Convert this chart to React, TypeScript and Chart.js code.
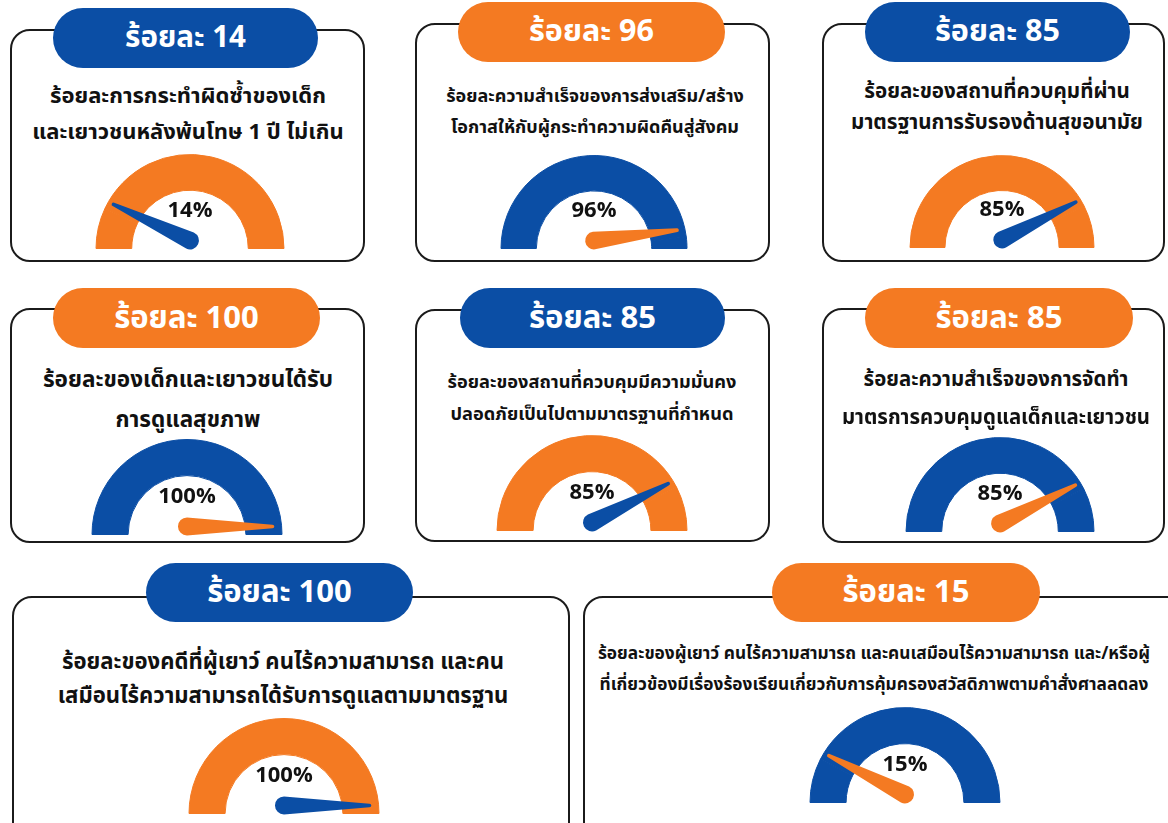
import React, { useEffect, useRef } from 'react';
import { Chart, registerables } from 'chart.js';

Chart.register(...registerables);

const BLUE = '#0b4ea5';
const ORANGE = '#f47a22';

const badgeLabels = ['ร้อยละ 14', 'ร้อยละ 96', 'ร้อยละ 85', 'ร้อยละ 100', 'ร้อยละ 85', 'ร้อยละ 85', 'ร้อยละ 100', 'ร้อยละ 15'];
const gaugeValues = [14, 96, 85, 100, 85, 85, 100, 15];
const gaugeLabels = ['14%', '96%', '85%', '100%', '85%', '85%', '100%', '15%'];
const badgeColors = ['blue', 'orange', 'blue', 'orange', 'blue', 'orange', 'blue', 'orange'];
const descriptions = [
  ['ร้อยละการกระทำผิดซ้ำของเด็ก', 'และเยาวชนหลังพ้นโทษ 1 ปี ไม่เกิน'],
  ['ร้อยละความสำเร็จของการส่งเสริม/สร้าง', 'โอกาสให้กับผู้กระทำความผิดคืนสู่สังคม'],
  ['ร้อยละของสถานที่ควบคุมที่ผ่าน', 'มาตรฐานการรับรองด้านสุขอนามัย'],
  ['ร้อยละของเด็กและเยาวชนได้รับ', 'การดูแลสุขภาพ'],
  ['ร้อยละของสถานที่ควบคุมมีความมั่นคง', 'ปลอดภัยเป็นไปตามมาตรฐานที่กำหนด'],
  ['ร้อยละความสำเร็จของการจัดทำ', 'มาตรการควบคุมดูแลเด็กและเยาวชน'],
  ['ร้อยละของคดีที่ผู้เยาว์ คนไร้ความสามารถ และคน', 'เสมือนไร้ความสามารถได้รับการดูแลตามมาตรฐาน'],
  ['ร้อยละของผู้เยาว์ คนไร้ความสามารถ และคนเสมือนไร้ความสามารถ และ/หรือผู้', 'ที่เกี่ยวข้องมีเรื่องร้องเรียนเกี่ยวกับการคุ้มครองสวัสดิภาพตามคำสั่งศาลลดลง'],
];

// layout only: box [x,y,w,h], pill [x,y,w,h], desc line centre y's, desc centre x, font sizes, gauge [cx,cy,R]
const layouts = [
  { box: [10, 29, 355, 233], pill: [53, 8, 265, 60], lines: [97, 133], lx: 188, fs: 22, ts: 29.5, gauge: [190, 249, 95] },
  { box: [415, 23, 355, 239], pill: [458, 2, 267, 60], lines: [97, 128], lx: 595, fs: 18, ts: 30.5, gauge: [594, 249, 94] },
  { box: [822, 23, 343, 239], pill: [865, 2, 265, 60], lines: [92, 123], lx: 997, fs: 20.6, ts: 30.5, gauge: [1002, 248, 93] },
  { box: [10, 308, 355, 235], pill: [53, 288, 267, 60], lines: [380, 420], lx: 188, fs: 22.5, ts: 31, gauge: [187, 535, 96] },
  { box: [415, 309, 355, 233], pill: [460, 288, 265, 60], lines: [383, 415], lx: 592, fs: 18.2, ts: 31, gauge: [592, 531, 96] },
  { box: [822, 308, 343, 235], pill: [865, 288, 268, 60], lines: [380, 418], lx: 996, fs: 20.4, ts: 31, gauge: [1000, 532, 95] },
  { box: [12, 596, 558, 260], pill: [146, 563, 267, 59], lines: [663, 697], lx: 283, fs: 22.1, ts: 31, gauge: [284, 814, 96] },
  { box: [583, 596, 610, 260], pill: [772, 563, 268, 59], lines: [654, 685], lx: 874, fs: 17.3, ts: 31, gauge: [905, 803, 96] },
];

const FONT = '"Noto Sans Thai", "Noto Sans Thai UI", "Loma", "Garuda", "Tlwg Typo", "Noto Sans", "DejaVu Sans", sans-serif';

const colorOf = (c: string) => (c === 'blue' ? BLUE : ORANGE);

const needlePlugin = {
  id: 'needle',
  afterDatasetsDraw(chart: any, _args: any, opts: any) {
    const arc = chart.getDatasetMeta(0).data[0];
    if (!arc) return;
    const { x, y, endAngle, outerRadius } = arc.getProps(['x', 'y', 'endAngle', 'outerRadius'], true);
    const ctx = chart.ctx;
    const px = x;
    const py = y - outerRadius * 0.085;
    const len = outerRadius * 0.9;
    const a = endAngle;
    const tx = px + Math.cos(a) * len;
    const ty = py + Math.sin(a) * len;
    const baseR = outerRadius * 0.095;
    const tipR = 1.8;
    ctx.save();
    ctx.fillStyle = opts.color;
    ctx.beginPath();
    const p = a + Math.PI / 2;
    ctx.moveTo(tx + Math.cos(p) * tipR, ty + Math.sin(p) * tipR);
    ctx.lineTo(px + Math.cos(p) * baseR, py + Math.sin(p) * baseR);
    ctx.arc(px, py, baseR, a + Math.PI / 2, a + (3 * Math.PI) / 2, false);
    ctx.lineTo(tx + Math.cos(a - Math.PI / 2) * tipR, ty + Math.sin(a - Math.PI / 2) * tipR);
    ctx.arc(tx, ty, tipR, a - Math.PI / 2, a + Math.PI / 2, false);
    ctx.closePath();
    ctx.fill();
    ctx.restore();
  },
};

function Gauge({ value, arcColor, needleColor, R }: { value: number; arcColor: string; needleColor: string; R: number }) {
  const ref = useRef<HTMLCanvasElement>(null);
  useEffect(() => {
    if (!ref.current) return;
    const chart = new Chart(ref.current, {
      type: 'doughnut',
      data: {
        labels: ['value', 'rest'],
        datasets: [
          {
            data: [value, 100 - value],
            backgroundColor: [arcColor, arcColor],
            borderColor: [arcColor, arcColor],
            borderWidth: 1,
            hoverOffset: 0,
          },
        ],
      },
      options: {
        responsive: false,
        animation: false,
        events: [],
        circumference: 180,
        rotation: -90,
        cutout: '62%',
        layout: { padding: { top: 1, bottom: 13, left: 0, right: 0 } },
        plugins: {
          legend: { display: false },
          tooltip: { enabled: false },
          needle: { color: needleColor },
        } as any,
      },
      plugins: [needlePlugin as any],
    });
    return () => chart.destroy();
  }, [value, arcColor, needleColor, R]);
  return <canvas ref={ref} width={2 * R + 2} height={R + 14} style={{ width: 2 * R + 2, height: R + 14, display: 'block' }} />;
}

function Card({ i }: { i: number }) {
  const L = layouts[i];
  const badge = colorOf(badgeColors[i]);
  const arc = colorOf(badgeColors[i] === 'blue' ? 'orange' : 'blue');
  const [cx, cy, R] = L.gauge;
  return (
    <>
      <div
        style={{
          position: 'absolute',
          left: L.box[0],
          top: L.box[1],
          width: L.box[2],
          height: L.box[3],
          border: '2.5px solid #1b1b1b',
          borderRadius: 20,
          boxSizing: 'border-box',
          background: '#fff',
        }}
      />
      <div style={{ position: 'absolute', left: cx - R - 1, top: cy - R - 1 }}>
        <Gauge value={gaugeValues[i]} arcColor={arc} needleColor={badge} R={R} />
      </div>
      <div
        style={{
          position: 'absolute',
          left: cx - 60,
          width: 120,
          top: cy - 38 - 15,
          height: 30,
          lineHeight: '30px',
          textAlign: 'center',
          fontFamily: FONT,
          fontWeight: 700,
          fontSize: 22,
          color: '#111',
        }}
      >
        {gaugeLabels[i]}
      </div>
      <div
        style={{
          position: 'absolute',
          left: L.pill[0],
          top: L.pill[1],
          width: L.pill[2],
          height: L.pill[3],
          borderRadius: 30,
          background: badge,
          color: '#fff',
          fontFamily: FONT,
          fontWeight: 700,
          fontSize: L.ts,
          display: 'flex',
          alignItems: 'center',
          justifyContent: 'center',
        }}
      >
        {badgeLabels[i]}
      </div>
      {descriptions[i].map((t, k) => (
        <div
          key={k}
          style={{
            position: 'absolute',
            left: L.lx - 320,
            width: 640,
            top: L.lines[k] - 18,
            height: 36,
            lineHeight: '36px',
            textAlign: 'center',
            whiteSpace: 'nowrap',
            fontFamily: FONT,
            fontWeight: 700,
            fontSize: L.fs,
            color: '#111',
          }}
        >
          {t}
        </div>
      ))}
    </>
  );
}

export default function App() {
  return (
    <div
      style={{
        position: 'absolute',
        left: 0,
        top: 0,
        width: 1168,
        height: 823,
        overflow: 'hidden',
        background: '#fff',
      }}
    >
      {gaugeValues.map((_, i) => (
        <Card key={i} i={i} />
      ))}
    </div>
  );
}
